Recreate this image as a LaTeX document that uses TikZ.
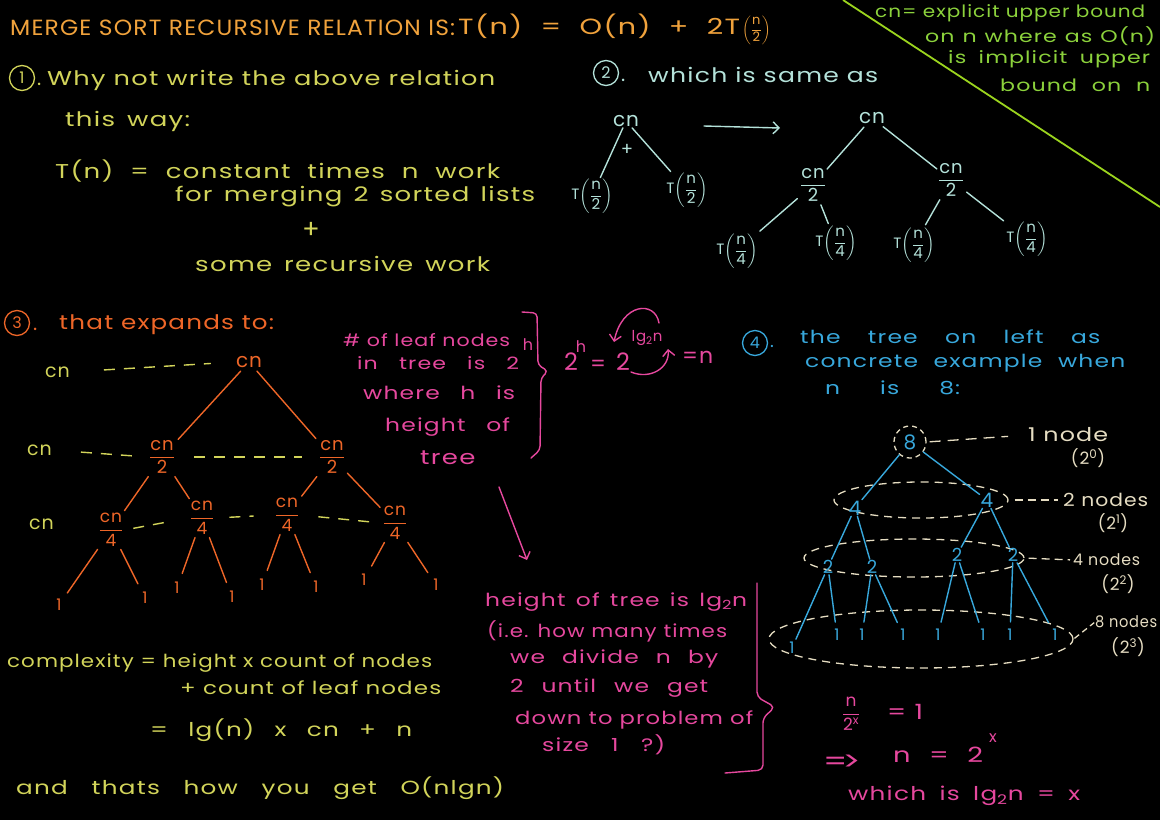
\documentclass[tikz,border=0pt]{standalone}
\usepackage{fontspec}
\usepackage{amsmath}
\usepackage{graphicx}
\setmainfont{Poppins}[LetterSpace=5]
\usetikzlibrary{arrows.meta,shapes.geometric}
\definecolor{ttl}{HTML}{F0A23C}
\definecolor{yel}{HTML}{D2D45A}
\definecolor{cya}{HTML}{B4E2DA}
\definecolor{grn}{HTML}{8CD23C}
\definecolor{gline}{HTML}{9BD41E}
\definecolor{org}{HTML}{EE6628}
\definecolor{pnk}{HTML}{E6489E}
\definecolor{blu}{HTML}{38A8DC}
\definecolor{crm}{HTML}{E6DDC2}
\newlength\Wn
\newcommand{\W}[2]{\settowidth{\Wn}{#2}%
  \ifdim\dimexpr\Wn*130/100\relax<#1pt
    \resizebox{#1pt}{\height}{\makebox[\dimexpr #1pt*100/130\relax][s]{#2}}%
  \else
    \resizebox{#1pt}{\height}{#2}%
  \fi}
\newcommand{\fs}[1]{\fontsize{#1}{#1}\selectfont}
\newcommand{\fr}[2]{$\dfrac{\text{#1}}{\text{#2}}$}
\newcommand{\Tf}[2]{T$\left(\dfrac{\text{#1}}{\text{#2}}\right)$}
\begin{document}
\begin{tikzpicture}[x=1pt,y=-1pt,
  t/.style={anchor=west, inner sep=0pt},
  c/.style={inner sep=1pt},
  ed/.style={line width=1.4pt, line cap=round},
  circnum/.style={circle, draw, line width=1.3pt, inner sep=0pt, minimum size=25pt},
  lvl/.style={line width=1.4pt, dash pattern=on 11pt off 9pt},
  ell/.style={ellipse, draw=crm, line width=1.3pt, dash pattern=on 8pt off 6pt, inner sep=0pt},
  tip/.style={-{Straight Barb[length=6pt,width=12pt]}}
]
\fill[black] (0,0) rectangle (1160,820);
\useasboundingbox (0,0) rectangle (1160,820);

% ---------- title ----------
\node[t, text=ttl, font=\fs{22}] (title) at (10,28) {\W{445}{MERGE SORT RECURSIVE RELATION IS:}};
\node[t, text=ttl, font=\fs{22}] (formula) at (458,26) {\W{282}{T(n) = O(n) + 2T}};
\node[t, text=ttl, font=\fs{13}] (formb) at (742,30) {$\left(\dfrac{\text{n}}{\text{2}}\right)$};

% ---------- green note ----------
\coordinate (gA) at (843,0);
\coordinate (gB) at (1160,207);
\draw[gline, line width=1.8pt] (gA) -- (gB);
\node[t, text=grn, font=\fs{17}] (g1) at (875,13) {\W{270}{cn= explicit upper bound}};
\node[t, text=grn, font=\fs{17}] (g2) at (925,36) {\W{230}{on n where as O(n)}};
\node[t, text=grn, font=\fs{17}] (g3) at (948,59) {\W{202}{is implicit upper}};
\node[t, text=grn, font=\fs{17}] (g4) at (1000,85) {\W{150}{bound on n}};

% ---------- section 1 ----------
\node[circnum, draw=yel, text=yel, font=\fs{16}] (c1) at (22,78) {1};
\node[t, text=yel, font=\fs{20}] (s1dot) at (37,84) {.};
\node[t, text=yel, font=\fs{20}] (s1a) at (47,80) {\W{448}{Why not write the above relation}};
\node[t, text=yel, font=\fs{20}] (s1b) at (65,121) {\W{125}{this way:}};
\node[t, text=yel, font=\fs{20}] (s1c) at (55,171) {\W{445}{T(n) = constant times n work}};
\node[t, text=yel, font=\fs{20}] (s1d) at (175,197) {\W{360}{for merging 2 sorted lists}};
\node[c, text=yel, font=\fs{26}] (s1e) at (311,230) {+};
\node[t, text=yel, font=\fs{20}] (s1f) at (195,264) {\W{295}{some recursive work}};

% ---------- section 2 ----------
\node[circnum, draw=cya, text=cya, font=\fs{16}] (c2) at (606,73) {2};
\node[t, text=cya, font=\fs{20}] (s2dot) at (621,80) {.};
\node[t, text=cya, font=\fs{20}] (s2a) at (648,75) {\W{230}{which is same as}};
\node[c, text=cya, font=\fs{20}] (a0) at (626,121) {cn};
\node[c, text=cya, font=\fs{18}] (aplus) at (627,150) {+};
\node[c, text=cya, font=\fs{15}] (a1) at (592,196) {\Tf{n}{2}};
\node[c, text=cya, font=\fs{15}] (a2) at (687,190) {\Tf{n}{2}};
\draw[cya, ed] (a0) -- (a1);
\draw[cya, ed] (a0) -- (a2);
\coordinate (arA) at (704,126);
\coordinate (arB) at (780,128);
\draw[cya, ed, tip] (arA) -- (arB);
\node[c, text=cya, font=\fs{20}] (b0) at (872,118) {cn};
\node[c, text=cya, font=\fs{18}] (b1) at (813,185) {\fr{cn}{2}};
\node[c, text=cya, font=\fs{18}] (b2) at (951,180) {\fr{cn}{2}};
\node[c, text=cya, font=\fs{15}] (b3) at (737,251) {\Tf{n}{4}};
\node[c, text=cya, font=\fs{15}] (b4) at (836,243) {\Tf{n}{4}};
\node[c, text=cya, font=\fs{15}] (b5) at (914,245) {\Tf{n}{4}};
\node[c, text=cya, font=\fs{15}] (b6) at (1027,239) {\Tf{n}{4}};
\draw[cya, ed, shorten <=3pt] (b0) -- (b1);
\draw[cya, ed, shorten <=3pt] (b0) -- (b2);
\draw[cya, ed, shorten <=2pt, shorten >=2pt] (b1) -- (b3);
\draw[cya, ed, shorten <=2pt, shorten >=1pt] (b1) -- (b4);
\draw[cya, ed, shorten <=2pt, shorten >=2pt] (b2) -- (b5);
\draw[cya, ed, shorten <=2pt, shorten >=2pt] (b2) -- (b6);

% ---------- section 3 ----------
\node[circnum, draw=org, text=org, font=\fs{16}] (c3) at (17,323) {3};
\node[t, text=org, font=\fs{20}] (s3dot) at (33,329) {.};
\node[t, text=org, font=\fs{20}] (s3a) at (59,325) {\W{215}{that expands to:}};
\node[t, text=yel, font=\fs{19}] (y1) at (45,372) {cn};
\node[t, text=yel, font=\fs{19}] (y2) at (27,450) {cn};
\node[t, text=yel, font=\fs{19}] (y3) at (29,524) {cn};
\node[c, text=org, font=\fs{20}] (r0) at (249,362) {cn};
\node[c, text=org, font=\fs{18}] (r1) at (162,457) {\fr{cn}{2}};
\node[c, text=org, font=\fs{18}] (r2) at (332,457) {\fr{cn}{2}};
\node[c, text=org, font=\fs{17}] (q1) at (111,530) {\fr{cn}{4}};
\node[c, text=org, font=\fs{17}] (q2) at (202,518) {\fr{cn}{4}};
\node[c, text=org, font=\fs{17}] (q3) at (287,515) {\fr{cn}{4}};
\node[c, text=org, font=\fs{17}] (q4) at (395,523) {\fr{cn}{4}};
\foreach \i/\x/\y in {1/59/605,2/145/598,3/177/588,4/232/597,5/262/585,6/316/587,7/364/580,8/436/585}
  \node[c, text=org, font=\fs{16}] (f\i) at (\x,\y) {1};
\draw[org, ed, shorten <=3pt, shorten >=3pt] (r0) -- (r1);
\draw[org, ed, shorten <=3pt, shorten >=3pt] (r0) -- (r2);
\draw[org, ed, shorten <=2pt, shorten >=2pt] (r1) -- (q1);
\draw[org, ed, shorten <=2pt, shorten >=2pt] (r1) -- (q2);
\draw[org, ed, shorten <=2pt, shorten >=2pt] (r2) -- (q3);
\draw[org, ed, shorten <=2pt, shorten >=2pt] (r2) -- (q4);
\draw[org, ed, shorten <=2pt, shorten >=8pt] (q1) -- (f1);
\draw[org, ed, shorten <=2pt, shorten >=8pt] (q1) -- (f2);
\draw[org, ed, shorten <=2pt, shorten >=8pt] (q2) -- (f3);
\draw[org, ed, shorten <=2pt, shorten >=8pt] (q2) -- (f4);
\draw[org, ed, shorten <=2pt, shorten >=8pt] (q3) -- (f5);
\draw[org, ed, shorten <=2pt, shorten >=8pt] (q3) -- (f6);
\draw[org, ed, shorten <=2pt, shorten >=8pt] (q4) -- (f7);
\draw[org, ed, shorten <=2pt, shorten >=8pt] (q4) -- (f8);
\draw[yel, lvl, shorten <=34pt, shorten >=24pt] (y1.east) -- (r0.west);
\draw[yel, lvl, shorten <=29pt, shorten >=8pt] (y2.east) -- (r1.west);
\draw[yel, lvl, shorten <=18pt, shorten >=16pt] (r1.east) -- (r2.west);
\draw[yel, lvl, shorten <=9pt, shorten >=20pt] (q1.east) -- (q2.west);
\draw[yel, lvl, shorten <=14pt, shorten >=20pt] (q2.east) -- (q3.west);
\draw[yel, lvl, shorten <=18pt, shorten >=12pt] (q3.east) -- (q4.west);

% ---------- pink notes ----------
\node[t, text=pnk, font=\fs{17}] (p1) at (343,340) {\W{167}{\# of leaf nodes}};
\node[t, text=pnk, font=\fs{17}] (p2) at (357,363) {\W{162}{in tree is 2}};
\node[c, text=pnk, font=\fs{16}] (p2h) at (528,345) {h};
\node[t, text=pnk, font=\fs{18}] (p3) at (363,393) {\W{152}{where h is}};
\node[t, text=pnk, font=\fs{18}] (p4) at (385,427) {\W{125}{height of}};
\node[t, text=pnk, font=\fs{20}] (p5) at (420,458) {\W{58}{tree}};
\coordinate (br1a) at (522,312);
\coordinate (br1b) at (548,371);
\coordinate (br1c) at (531,458);
\draw[pnk, ed, rounded corners=4pt] (br1a) -- (537,313) -- (538,365) -- (br1b) -- (541,378) -- (540,450) -- (br1c);

\node[c, text=pnk, font=\fs{24}] (e1) at (571,362) {2};
\node[c, text=pnk, font=\fs{16}] (e1h) at (581,347) {h};
\node[c, text=pnk, font=\fs{22}] (e2) at (598,366) {=};
\node[c, text=pnk, font=\fs{24}] (e3) at (623,362) {2};
\node[c, text=pnk, font=\fs{15}] (e4) at (647,338) {lg\textsubscript{2}n};
\node[t, text=pnk, font=\fs{22}] (e5) at (682,357) {=n};
\coordinate (ua1) at (659,323);
\coordinate (ua2) at (614,342);
\draw[pnk, ed, tip] (ua1) .. controls (655,300) and (622,303) .. (ua2);
\coordinate (la1) at (631,372);
\coordinate (la2) at (668,349);
\draw[pnk, ed, tip] (la1) .. controls (650,380) and (670,368) .. (la2);
\coordinate (da1) at (499,487);
\coordinate (da2) at (527,560);
\draw[pnk, ed, tip] (da1) -- (da2);

\node[t, text=pnk, font=\fs{18}] (h1) at (485,602) {\W{262}{height of tree is lg\textsubscript{2}n}};
\node[t, text=pnk, font=\fs{18}] (h2) at (487,631) {\W{240}{(i.e. how many times}};
\node[t, text=pnk, font=\fs{18}] (h3) at (510,659) {\W{208}{we divide n by}};
\node[t, text=pnk, font=\fs{18}] (h4) at (510,688) {\W{198}{2 until we get}};
\node[t, text=pnk, font=\fs{18}] (h5) at (515,720) {\W{238}{down to problem of}};
\node[t, text=pnk, font=\fs{18}] (h6) at (542,745) {\W{123}{size 1 ?)}};
\coordinate (br2a) at (757,583);
\coordinate (br2b) at (775,707);
\coordinate (br2c) at (725,773);
\draw[pnk, ed, rounded corners=5pt] (br2a) -- (757,697) -- (br2b) -- (763,718) -- (763,770) -- (br2c);

% ---------- section 4 ----------
\node[circnum, draw=blu, text=blu, font=\fs{16}] (c4) at (755,343) {4};
\node[t, text=blu, font=\fs{18}] (s4dot) at (770,346) {.};
\node[t, text=blu, font=\fs{18}] (s4a) at (800,337) {\W{300}{the tree on left as}};
\node[t, text=blu, font=\fs{18}] (s4b) at (805,363) {\W{320}{concrete example when}};
\node[t, text=blu, font=\fs{18}] (s4c) at (825,388) {\W{135}{n is 8:}};

\node[circle, draw=crm, line width=1.3pt, dash pattern=on 5pt off 4pt, text=blu, font=\fs{20}, minimum size=32pt, inner sep=0pt] (n8) at (910,442) {8};
\node[ell, minimum width=174pt, minimum height=36pt] (e2l) at (921,500) {};
\node[ell, minimum width=220pt, minimum height=38pt] (e3l) at (914,558) {};
\node[ell, minimum width=304pt, minimum height=58pt] (e4l) at (921,639) {};
\node[c, text=blu, font=\fs{20}] (n4a) at (855,508) {4};
\node[c, text=blu, font=\fs{20}] (n4b) at (987,500) {4};
\node[c, text=blu, font=\fs{18}] (n2a) at (828,567) {2};
\node[c, text=blu, font=\fs{18}] (n2b) at (872,567) {2};
\node[c, text=blu, font=\fs{18}] (n2c) at (957,555) {2};
\node[c, text=blu, font=\fs{18}] (n2d) at (1013,555) {2};
\foreach \i/\x/\y in {1/792/648,2/837/635,3/862/635,4/903/635,5/938/635,6/983/635,7/1010/635,8/1055/635}
  \node[c, text=blu, font=\fs{16}] (m\i) at (\x,\y) {1};
\draw[blu, ed] (n8) -- (n4a);
\draw[blu, ed] (n8) -- (n4b);
\draw[blu, ed] (n4a) -- (n2a);
\draw[blu, ed] (n4a) -- (n2b);
\draw[blu, ed] (n4b) -- (n2c);
\draw[blu, ed] (n4b) -- (n2d);
\draw[blu, ed, shorten >=2pt] (n2a) -- (m1);
\draw[blu, ed, shorten >=6pt] (n2a) -- (m2);
\draw[blu, ed, shorten >=6pt] (n2b) -- (m3);
\draw[blu, ed, shorten >=6pt] (n2b) -- (m4);
\draw[blu, ed, shorten >=6pt] (n2c) -- (m5);
\draw[blu, ed, shorten >=6pt] (n2c) -- (m6);
\draw[blu, ed, shorten >=6pt] (n2d) -- (m7);
\draw[blu, ed, shorten >=6pt] (n2d) -- (m8);

\node[t, text=crm, font=\fs{19}] (k1) at (1028,435) {\W{80}{1 node}};
\node[c, text=crm, font=\fs{17}] (k1e) at (1088,458) {(2\textsuperscript{0})};
\node[t, text=crm, font=\fs{18}] (k2) at (1063,500) {\W{85}{2 nodes}};
\node[c, text=crm, font=\fs{17}] (k2e) at (1113,523) {(2\textsuperscript{1})};
\node[t, text=crm, font=\fs{16}] (k3) at (1073,560) {\W{67}{4 nodes}};
\node[c, text=crm, font=\fs{17}] (k3e) at (1118,584) {(2\textsuperscript{2})};
\node[t, text=crm, font=\fs{16}] (k4) at (1095,622) {\W{62}{8 nodes}};
\node[c, text=crm, font=\fs{17}] (k4e) at (1128,647) {(2\textsuperscript{3})};
\draw[crm, line width=1.3pt, dash pattern=on 11pt off 7pt, shorten <=3pt, shorten >=20pt] (n8.east) -- (k1.west);
\draw[crm, line width=1.3pt, dash pattern=on 8pt off 5pt, shorten <=6pt, shorten >=5pt] (e2l.east) -- (k2.west);
\draw[crm, line width=1.3pt, dash pattern=on 8pt off 5pt, shorten <=4pt, shorten >=3pt] (e3l.east) -- (k3.west);
\draw[crm, line width=1.3pt, dash pattern=on 6pt off 4pt, shorten <=1pt, shorten >=1pt] (e4l.east) -- (k4.west);

% ---------- bottom right pink ----------
\node[c, text=pnk, font=\fs{17}] (x1) at (851,714) {\fr{n}{2\textsuperscript{x}}};
\node[t, text=pnk, font=\fs{21}] (x2) at (887,712) {\W{36}{= 1}};
\node[t, text=pnk, font=\fs{26}] (x3) at (823,763) {\W{44}{=\kern-4pt>}};
\node[t, text=pnk, font=\fs{21}] (x4) at (893,755) {\W{90}{n = 2}};
\node[c, text=pnk, font=\fs{16}] (x4e) at (993,738) {x};
\node[t, text=pnk, font=\fs{19}] (x5) at (848,796) {\W{232}{which is lg\textsubscript{2}n = x}};

% ---------- complexity ----------
\node[t, text=yel, font=\fs{18}] (k01) at (7,663) {\W{425}{complexity = height x count of nodes}};
\node[t, text=yel, font=\fs{18}] (k02) at (180,688) {\W{261}{+ count of leaf nodes}};
\node[t, text=yel, font=\fs{19}] (k03) at (150,730) {\W{262}{= lg(n) x cn + n}};
\node[t, text=yel, font=\fs{19}] (k04) at (16,788) {\W{488}{and thats how you get O(nlgn)}};
\end{tikzpicture}
\end{document}
